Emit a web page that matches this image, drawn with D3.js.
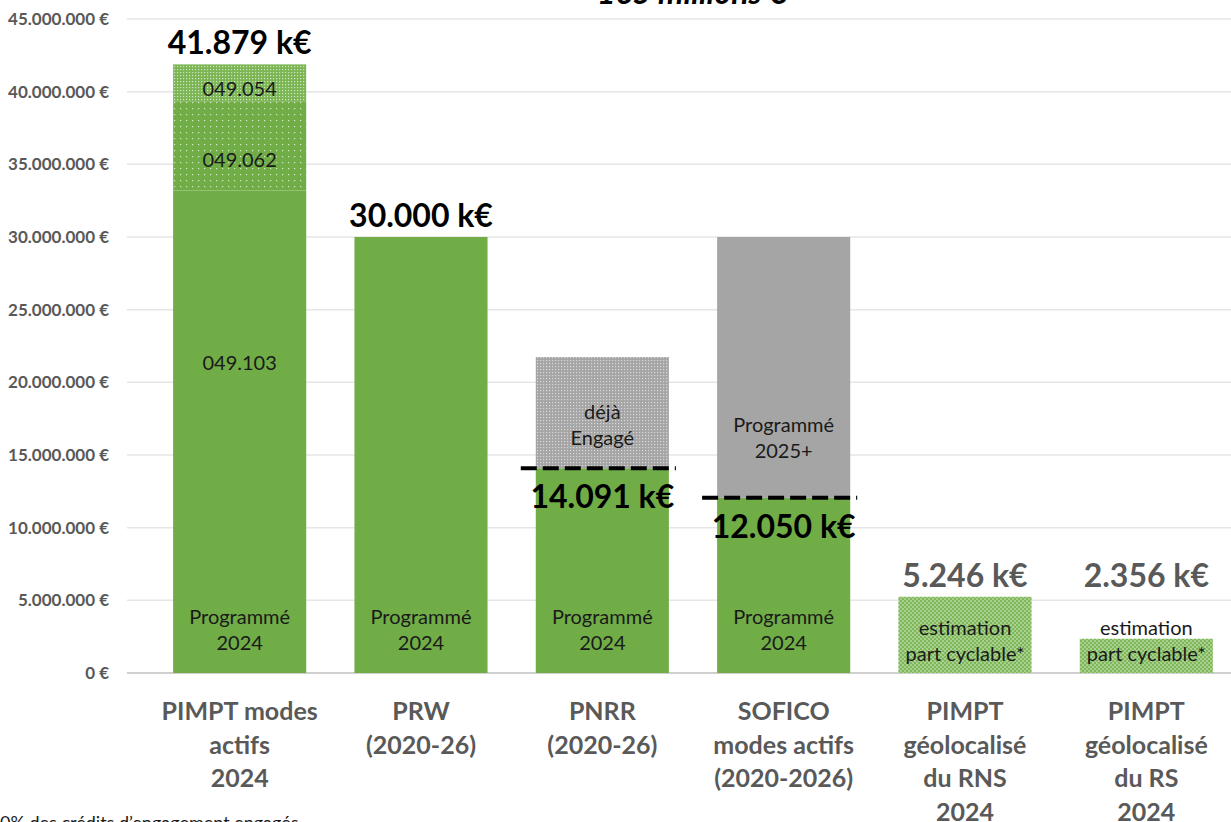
<!DOCTYPE html>
<html>
<head>
<meta charset="utf-8">
<script src="https://cdn.jsdelivr.net/npm/d3@7"></script>
<style>
  html, body { margin: 0; padding: 0; background: #fff; overflow: hidden; }
  #chart { width: 1231px; height: 822px; }
  text { font-family: Lato, "Open Sans", sans-serif; }
</style>
</head>
<body>
<div id="chart"></div>
<script>
// categories (multi-line labels)
const categories = [
  ['PIMPT modes', 'actifs', '2024'],
  ['PRW', '(2020-26)'],
  ['PNRR', '(2020-26)'],
  ['SOFICO', 'modes actifs', '(2020-2026)'],
  ['PIMPT', 'géolocalisé', 'du RNS', '2024'],
  ['PIMPT', 'géolocalisé', 'du RS', '2024']
];

// stacked series values in €
const programme2024 = [33200000, 30000000, 14091000, 12050000, 0, 0];
const art049062 = [6100000, 0, 0, 0, 0, 0];
const art049054 = [2579000, 0, 0, 0, 0, 0];
const dejaEngage = [0, 0, 7650000, 0, 0, 0];
const programme2025 = [0, 0, 0, 17950000, 0, 0];
const estimation = [0, 0, 0, 0, 5246000, 2356000];

// totals shown above / below the bars
const totalLabels = ['41.879 k€', '30.000 k€', '14.091 k€', '12.050 k€', '5.246 k€', '2.356 k€'];
const totalAt = [41879000, 30000000, 14091000, 12050000, 5246000, 5246000];
const totalBelow = [false, false, true, true, false, false];

// engaged thresholds (dashed lines)
const thresholds = [null, null, 14091000, 12050000, null, null];

// text inside the bars: category index, lines, value where it sits
const innerLabels = [
  { i: 0, lines: ['049.054'], at: 40200000 },
  { i: 0, lines: ['049.062'], at: 35300000 },
  { i: 0, lines: ['049.103'], at: 21300000 },
  { i: 0, lines: ['Programmé', '2024'], at: 2960000 },
  { i: 1, lines: ['Programmé', '2024'], at: 2960000 },
  { i: 2, lines: ['Programmé', '2024'], at: 2960000 },
  { i: 3, lines: ['Programmé', '2024'], at: 2960000 },
  { i: 2, lines: ['déjà', 'Engagé'], at: 17050000 },
  { i: 3, lines: ['Programmé', '2025+'], at: 16170000 },
  { i: 4, lines: ['estimation', 'part cyclable*'], at: 2200000 },
  { i: 5, lines: ['estimation', 'part cyclable*'], at: 2200000 }
];

const yTicks = [0, 5000000, 10000000, 15000000, 20000000, 25000000, 30000000, 35000000, 40000000, 45000000];

const width = 1231, height = 822;
const margin = { top: 19, bottom: 149, left: 127 };

const svg = d3.select('#chart').append('svg')
  .attr('width', width)
  .attr('height', height);

// patterns
const defs = svg.append('defs');
function dotPattern(id, bg, dot, size, r) {
  const p = defs.append('pattern')
    .attr('id', id)
    .attr('patternUnits', 'userSpaceOnUse')
    .attr('width', size)
    .attr('height', size);
  p.append('rect').attr('width', size).attr('height', size).attr('fill', bg);
  p.append('rect').attr('x', 0).attr('y', 0).attr('width', r).attr('height', r).attr('fill', dot);
  return p;
}
dotPattern('p062', '#70ad47', '#d6ebc8', 6, 1.2);
dotPattern('p054', '#7bb554', '#cfe5bf', 3, 1.2);
dotPattern('pGray', '#a5a5a5', '#d9d9d9', 3, 1.2);
const chk = defs.append('pattern')
  .attr('id', 'pCheck')
  .attr('patternUnits', 'userSpaceOnUse')
  .attr('width', 4).attr('height', 4);
chk.append('rect').attr('width', 4).attr('height', 4).attr('fill', '#a9d18e');
chk.append('rect').attr('width', 2).attr('height', 2).attr('fill', '#7fb65a');
chk.append('rect').attr('x', 2).attr('y', 2).attr('width', 2).attr('height', 2).attr('fill', '#7fb65a');

const y = d3.scaleLinear()
  .domain([0, 45000000])
  .range([height - margin.bottom, margin.top]);

const x = d3.scaleBand()
  .domain(d3.range(categories.length))
  .range([149, 1237])
  .paddingInner(0.266)
  .paddingOuter(0.133);

const locale = d3.formatLocale({ decimal: ',', thousands: '.', grouping: [3], currency: ['', ' €'] });
const fmt = locale.format(',.0f');

// gridlines
svg.append('g')
  .selectAll('line')
  .data(yTicks)
  .join('line')
  .attr('x1', margin.left)
  .attr('x2', width)
  .attr('y1', d => y(d))
  .attr('y2', d => y(d))
  .attr('stroke', d => d === 0 ? '#d0d0d0' : '#e6e6e6')
  .attr('stroke-width', d => d === 0 ? 2 : 1.5);

// y axis labels
const yAxis = d3.axisLeft(y).tickValues(yTicks).tickSize(0).tickPadding(0)
  .tickFormat(d => fmt(d) + ' €');
svg.append('g')
  .attr('transform', 'translate(109,0)')
  .call(yAxis)
  .call(g => g.select('.domain').remove())
  .selectAll('text')
  .attr('font-family', 'Lato, sans-serif')
  .attr('font-size', '17px')
  .attr('font-weight', 'bold')
  .attr('fill', '#595959');

// stacked bars
const keys = ['programme2024', 'art049062', 'art049054', 'dejaEngage', 'programme2025', 'estimation'];
const fills = {
  programme2024: '#70ad47',
  art049062: 'url(#p062)',
  art049054: 'url(#p054)',
  dejaEngage: 'url(#pGray)',
  programme2025: '#a5a5a5',
  estimation: 'url(#pCheck)'
};
const table = categories.map((c, i) => ({
  i,
  programme2024: programme2024[i],
  art049062: art049062[i],
  art049054: art049054[i],
  dejaEngage: dejaEngage[i],
  programme2025: programme2025[i],
  estimation: estimation[i]
}));
const stacked = d3.stack().keys(keys)(table);

svg.append('g')
  .selectAll('g')
  .data(stacked)
  .join('g')
  .attr('fill', d => fills[d.key])
  .selectAll('rect')
  .data(d => d.filter(s => s[1] > s[0]))
  .join('rect')
  .attr('x', d => x(d.data.i))
  .attr('width', x.bandwidth())
  .attr('y', d => y(d[1]))
  .attr('height', d => y(d[0]) - y(d[1]));

// dashed threshold lines
svg.append('g')
  .selectAll('line')
  .data(thresholds.map((v, i) => ({ v, i })).filter(d => d.v !== null))
  .join('line')
  .attr('x1', d => x(d.i) - 15)
  .attr('x2', d => x(d.i) + x.bandwidth() + 7)
  .attr('y1', d => y(d.v))
  .attr('y2', d => y(d.v))
  .attr('stroke', '#000')
  .attr('stroke-width', 4)
  .attr('stroke-dasharray', '16,6');

// inner labels
const inner = svg.append('g');
innerLabels.forEach(l => {
  const t = inner.append('text')
    .attr('x', x(l.i) + x.bandwidth() / 2)
    .attr('y', y(l.at))
    .attr('text-anchor', 'middle')
    .attr('font-size', '20px')
    .attr('fill', '#1a1a1a');
  const off = -(l.lines.length - 1) / 2 * 26;
  l.lines.forEach((s, k) => {
    t.append('tspan')
      .attr('x', x(l.i) + x.bandwidth() / 2)
      .attr('y', y(l.at) + off + k * 26 + 7)
      .text(s);
  });
});

// total labels
svg.append('g')
  .selectAll('text')
  .data(totalLabels)
  .join('text')
  .attr('x', (d, i) => x(i) + x.bandwidth() / 2)
  .attr('y', (d, i) => totalBelow[i] ? y(totalAt[i]) + 40 : y(totalAt[i]) - 10)
  .attr('text-anchor', 'middle')
  .attr('font-size', '32px')
  .attr('font-weight', 'bold')
  .attr('fill', (d, i) => i >= 4 ? '#595959' : '#000')
  .text(d => d);

// category labels
const cat = svg.append('g');
categories.forEach((lines, i) => {
  const t = cat.append('text')
    .attr('text-anchor', 'middle')
    .attr('font-size', '25px')
    .attr('font-weight', 'bold')
    .attr('fill', '#595959');
  lines.forEach((s, k) => {
    t.append('tspan')
      .attr('x', x(i) + x.bandwidth() / 2)
      .attr('y', 720 + k * 33.5)
      .text(s);
  });
});

// title (cut off at the top in the original)
svg.append('text')
  .attr('x', 692)
  .attr('y', 4)
  .attr('text-anchor', 'middle')
  .attr('font-size', '32px')
  .attr('font-weight', 'bold')
  .attr('font-style', 'italic')
  .attr('fill', '#000')
  .text('165 millions €');

// footnote
svg.append('text')
  .attr('x', 0)
  .attr('y', 829)
  .attr('font-size', '18px')
  .attr('fill', '#1a1a1a')
  .text('0% des crédits d’engagement engagés');
</script>
</body>
</html>
